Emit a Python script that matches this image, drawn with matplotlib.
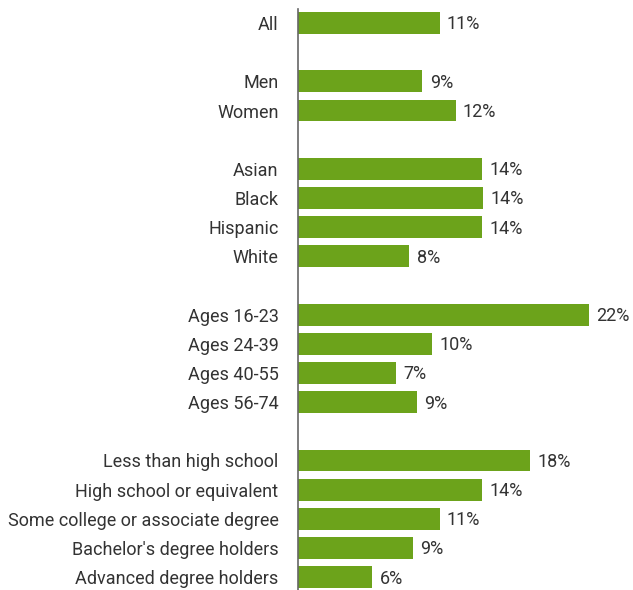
import matplotlib
matplotlib.use("Agg")
import matplotlib.pyplot as plt

plt.rcParams['font.family'] = ['Roboto', 'DejaVu Sans']

# groups of categories, blank rows between groups
labels = ["All", "",
          "Men", "Women", "",
          "Asian", "Black", "Hispanic", "White", "",
          "Ages 16-23", "Ages 24-39", "Ages 40-55", "Ages 56-74", "",
          "Less than high school", "High school or equivalent",
          "Some college or associate degree", "Bachelor's degree holders",
          "Advanced degree holders"]
values = [10.7, None,
          9.4, 11.9, None,
          13.9, 14.0, 13.9, 8.4, None,
          22.0, 10.1, 7.4, 9.0, None,
          17.5, 13.9, 10.7, 8.7, 5.6]

green = "#6ca31b"
text_col = "#333333"
fs = 13

fig = plt.figure(figsize=(6.33, 5.9), dpi=100)
ax = fig.add_axes([298 / 633, 0, 1 - 298 / 633, 1 - 9 / 590])

ys = [i for i, v in enumerate(values) if v is not None]
vs = [v for v in values if v is not None]
ax.barh(ys, vs, height=0.75, color=green)

for y, v in zip(ys, vs):
    ax.text(v + 0.55, y + 0.05, f"{v:.0f}%", va="center", ha="left",
            fontsize=fs, color=text_col)

ax.set_yticks(ys)
ax.set_yticklabels([labels[i] for i in ys], fontsize=fs, color=text_col)
ax.tick_params(axis="y", length=0, pad=14)
ax.set_xticks([])
ax.set_xlim(0, 25.3)
ax.set_ylim(19.44, -0.48)

for s in ["top", "right", "bottom"]:
    ax.spines[s].set_visible(False)
ax.spines["left"].set_color("#666666")
ax.spines["left"].set_linewidth(1.2)

fig.savefig("out.png", dpi=100)
